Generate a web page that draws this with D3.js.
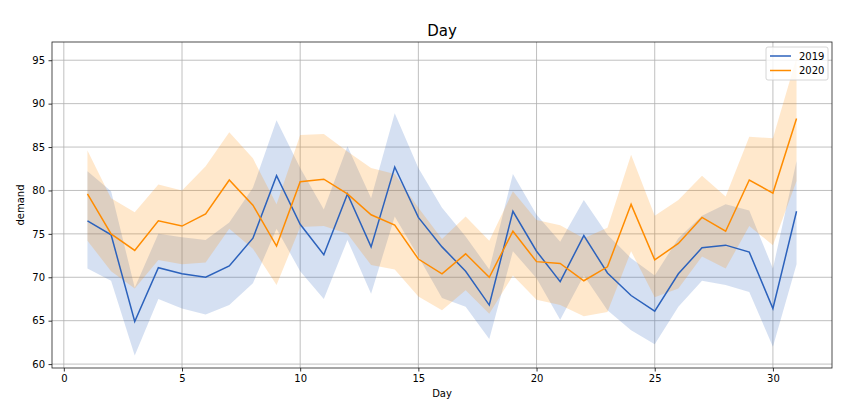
<!DOCTYPE html>
<html>
<head>
<meta charset="utf-8">
<script src="https://cdn.jsdelivr.net/npm/d3@7"></script>
<style>
  body { margin: 0; background: #fff; }
  text { font-family: "DejaVu Sans", sans-serif; }
</style>
</head>
<body>
<div id="chart"></div>
<script>
const days = d3.range(1, 32);

const mean2019 = [76.5, 74.9, 64.9, 71.1, 70.4, 70.0, 71.3, 74.5, 81.7, 76.1, 72.6, 79.6, 73.5, 82.7, 76.9, 73.5,
  70.7, 66.8, 77.6, 73.0, 69.5, 74.8, 70.5, 67.9, 66.1, 70.4, 73.4, 73.7, 72.9, 66.4, 77.6];
const upper2019 = [82.2, 79.9, 68.8, 75.0, 74.6, 74.3, 76.3, 80.3, 88.1, 82.6, 77.8, 85.1, 79.1, 88.9, 82.6, 78.0,
  74.7, 70.9, 81.9, 77.2, 74.1, 78.9, 74.9, 72.2, 70.2, 74.5, 77.1, 78.4, 77.7, 71.0, 83.4];
const lower2019 = [71.0, 69.6, 61.0, 67.5, 66.4, 65.7, 66.8, 69.3, 75.6, 70.7, 67.5, 74.3, 68.1, 77.0, 72.4, 67.6,
  66.6, 62.9, 73.0, 69.9, 65.1, 70.2, 66.2, 63.9, 62.3, 66.6, 69.6, 69.1, 68.3, 62.0, 71.5];

const mean2020 = [79.6, 75.0, 73.1, 76.5, 75.9, 77.3, 81.2, 78.3, 73.6, 81.0, 81.3, 79.6, 77.2, 76.0, 72.1, 70.4,
  72.7, 70.0, 75.3, 71.8, 71.6, 69.6, 71.2, 78.4, 72.0, 73.9, 76.9, 75.3, 81.2, 79.7, 88.3];
const upper2020 = [84.6, 79.1, 77.5, 80.7, 80.0, 82.8, 86.7, 83.7, 78.4, 86.4, 86.5, 84.5, 82.6, 81.9, 78.0, 74.4,
  77.0, 74.2, 79.9, 76.6, 76.0, 74.5, 75.7, 84.1, 77.1, 78.9, 81.7, 79.3, 86.2, 86.0, 95.3];
const lower2020 = [74.2, 70.7, 68.7, 72.0, 71.5, 71.7, 75.6, 73.3, 69.1, 75.8, 75.9, 75.0, 71.4, 70.9, 67.8, 66.2,
  68.5, 65.8, 70.2, 67.4, 66.8, 65.5, 66.0, 73.0, 67.7, 68.7, 72.4, 71.0, 75.9, 73.7, 81.1];

const xTicks = [0, 5, 10, 15, 20, 25, 30];
const yTicks = [60, 65, 70, 75, 80, 85, 90, 95];

const series = [
  { name: '2019', color: '#2c62bc', mean: mean2019, upper: upper2019, lower: lower2019 },
  { name: '2020', color: '#ff8c00', mean: mean2020, upper: upper2020, lower: lower2020 }
];

const W = 866, H = 410;
const margin = { top: 42, right: 34, bottom: 42, left: 52 };
const width = W - margin.left - margin.right;
const height = H - margin.top - margin.bottom;

const svg = d3.select('#chart').append('svg')
  .attr('width', W)
  .attr('height', H);

const g = svg.append('g')
  .attr('transform', `translate(${margin.left},${margin.top})`);

const x = d3.scaleLinear().domain([-0.5, 32.5]).range([0, width]);
const y = d3.scaleLinear().domain([59.55, 97.1]).range([height, 0]);

// grid
g.append('g')
  .selectAll('line')
  .data(xTicks)
  .enter().append('line')
  .attr('x1', d => x(d)).attr('x2', d => x(d))
  .attr('y1', 0).attr('y2', height)
  .attr('stroke', '#b0b0b0').attr('stroke-width', 0.8);

g.append('g')
  .selectAll('line')
  .data(yTicks)
  .enter().append('line')
  .attr('x1', 0).attr('x2', width)
  .attr('y1', d => y(d)).attr('y2', d => y(d))
  .attr('stroke', '#b0b0b0').attr('stroke-width', 0.8);

// bands and lines
const area = s => d3.area()
  .x((d, i) => x(days[i]))
  .y0((d, i) => y(s.lower[i]))
  .y1((d, i) => y(s.upper[i]));

const line = s => d3.line()
  .x((d, i) => x(days[i]))
  .y((d, i) => y(s.mean[i]));

series.forEach(s => {
  g.append('path')
    .datum(days)
    .attr('d', area(s))
    .attr('fill', s.color)
    .attr('fill-opacity', 0.2);
});

series.forEach(s => {
  g.append('path')
    .datum(days)
    .attr('d', line(s))
    .attr('fill', 'none')
    .attr('stroke', s.color)
    .attr('stroke-width', 1.5);
});

// axes
const xAxis = g.append('g')
  .attr('transform', `translate(0,${height})`)
  .call(d3.axisBottom(x).tickValues(xTicks).tickSize(3.5).tickPadding(3.5));

const yAxis = g.append('g')
  .call(d3.axisLeft(y).tickValues(yTicks).tickSize(3.5).tickPadding(3.5));

[xAxis, yAxis].forEach(a => {
  a.select('.domain').remove();
  a.selectAll('text').style('font-size', '10px').attr('fill', '#000');
  a.selectAll('line').attr('stroke', '#000').attr('stroke-width', 0.8);
});

g.append('rect')
  .attr('width', width).attr('height', height)
  .attr('fill', 'none')
  .attr('stroke', '#222').attr('stroke-width', 0.8);

// labels
svg.append('text')
  .attr('x', margin.left + width / 2).attr('y', 36)
  .attr('text-anchor', 'middle')
  .style('font-size', '15px')
  .text('Day');

svg.append('text')
  .attr('x', margin.left + width / 2).attr('y', 397)
  .attr('text-anchor', 'middle')
  .style('font-size', '10px')
  .text('Day');

svg.append('text')
  .attr('transform', `translate(24,${margin.top + height / 2}) rotate(-90)`)
  .attr('text-anchor', 'middle')
  .style('font-size', '10px')
  .text('demand');

// legend
const legend = g.append('g')
  .attr('transform', `translate(${width - 66},5)`);

legend.append('rect')
  .attr('width', 62).attr('height', 33)
  .attr('rx', 2)
  .attr('fill', '#fff').attr('fill-opacity', 0.8)
  .attr('stroke', '#ccc').attr('stroke-width', 0.8);

series.forEach((s, i) => {
  const row = legend.append('g').attr('transform', `translate(4,${9 + i * 14.5})`);
  row.append('line')
    .attr('x1', 0).attr('x2', 21)
    .attr('stroke', s.color).attr('stroke-width', 1.5);
  row.append('text')
    .attr('x', 29).attr('y', 3.5)
    .style('font-size', '10px')
    .text(s.name);
});
</script>
</body>
</html>
